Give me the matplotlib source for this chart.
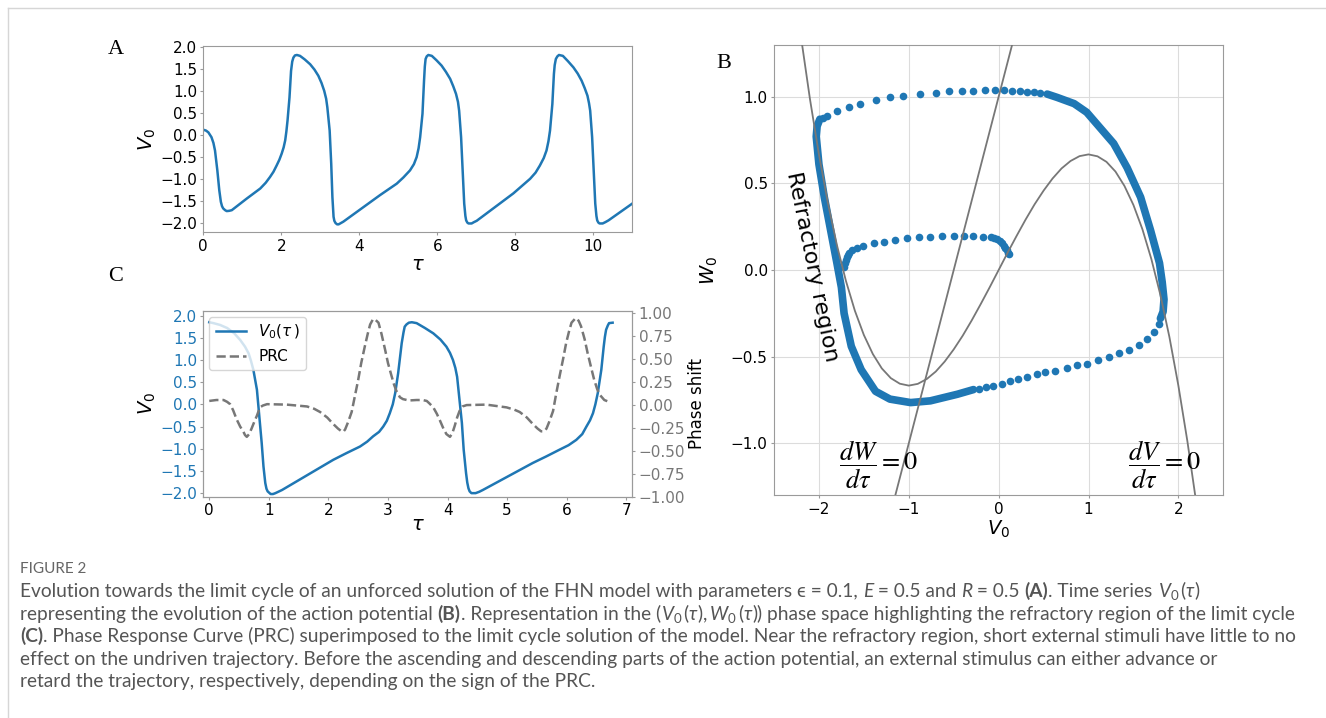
import numpy as np
import matplotlib
matplotlib.use('Agg')
import matplotlib.pyplot as plt
from matplotlib.lines import Line2D

plt.rcParams['font.family'] = ['DejaVu Sans']
plt.rcParams['mathtext.rm'] = 'Lato'
plt.rcParams['mathtext.it'] = 'Lato:italic'
plt.rcParams['mathtext.bf'] = 'Lato:bold'

# panel A: time series V0(tau)
tau_a = [0.0, 0.07, 0.13, 0.21, 0.26, 0.30, 0.36, 0.41, 0.45, 0.48, 0.51, 0.56, 0.60, 0.66, 0.73,
         1.11, 1.46, 1.60, 1.71, 1.80, 1.88, 1.95, 2.01, 2.06, 2.10, 2.13, 2.16, 2.21, 2.25, 2.28,
         2.31, 2.35, 2.40, 2.48, 2.60, 2.74, 2.85, 2.95, 3.03, 3.10, 3.15, 3.18, 3.24, 3.28, 3.31,
         3.34, 3.36, 3.39, 3.43, 3.47, 3.53, 3.59, 4.53, 4.96, 5.13, 5.30, 5.40, 5.47, 5.52, 5.56,
         5.62, 5.66, 5.68, 5.70, 5.73, 5.77, 5.86, 5.98, 6.11, 6.22, 6.33, 6.41, 6.48, 6.53, 6.56,
         6.61, 6.65, 6.69, 6.72, 6.74, 6.77, 6.80, 6.88, 6.94, 7.01, 7.95, 8.38, 8.52, 8.63, 8.73,
         8.80, 8.85, 8.89, 8.95, 8.99, 9.01, 9.04, 9.08, 9.12, 9.22, 9.35, 9.49, 9.60, 9.70, 9.78,
         9.85, 9.89, 9.92, 9.97, 10.01, 10.05, 10.08, 10.10, 10.13, 10.16, 10.24, 10.31, 10.39,
         11.0]
v_a = [0.12, 0.10, 0.06, -0.05, -0.18, -0.35, -0.80, -1.25, -1.51, -1.61, -1.66, -1.70, -1.72,
       -1.715, -1.70, -1.44, -1.21, -1.08, -0.95, -0.83, -0.69, -0.56, -0.42, -0.28, -0.12, 0.08,
       0.33, 0.85, 1.45, 1.66, 1.75, 1.80, 1.81, 1.79, 1.71, 1.60, 1.48, 1.34, 1.18, 1.00, 0.82,
       0.63, 0.10, -0.65, -1.40, -1.85, -1.94, -1.99, -2.02, -2.02, -1.99, -1.96, -1.36, -1.10,
       -0.96, -0.80, -0.66, -0.50, -0.30, -0.05, 0.48, 1.23, 1.55, 1.72, 1.78, 1.81, 1.79, 1.69,
       1.57, 1.43, 1.27, 1.10, 0.93, 0.75, 0.55, -0.05, -0.80, -1.55, -1.83, -1.93, -1.98, -2.0,
       -2.0, -1.97, -1.94, -1.32, -0.99, -0.85, -0.69, -0.52, -0.35, -0.14, 0.10, 0.70, 1.38,
       1.58, 1.72, 1.78, 1.81, 1.79, 1.67, 1.53, 1.39, 1.23, 1.06, 0.89, 0.72, 0.55, -0.05, -0.80,
       -1.55, -1.83, -1.93, -1.98, -2.0, -2.0, -1.97, -1.93, -1.55]

# panel C: limit cycle V0 and PRC
tau_c = [0.0, 0.07, 0.18, 0.30, 0.42, 0.52, 0.60, 0.66, 0.70, 0.74, 0.80, 0.84, 0.88, 0.91, 0.94,
         0.96, 0.98, 1.03, 1.07, 1.11, 1.22, 2.08, 2.30, 2.53, 2.65, 2.75, 2.85, 2.92, 2.98, 3.03,
         3.08, 3.12, 3.17, 3.23, 3.26, 3.28, 3.31, 3.35, 3.40, 3.48, 3.62, 3.76, 3.88, 3.98, 4.04,
         4.09, 4.13, 4.16, 4.20, 4.24, 4.27, 4.31, 4.33, 4.35, 4.37, 4.40, 4.47, 4.53, 4.59, 5.43,
         5.66, 5.88, 6.03, 6.16, 6.26, 6.33, 6.39, 6.44, 6.48, 6.52, 6.58, 6.62, 6.64, 6.66, 6.69,
         6.71, 6.77]
v_c = [1.85, 1.83, 1.79, 1.72, 1.60, 1.45, 1.30, 1.15, 0.98, 0.78, 0.33, -0.27, -0.87, -1.40,
       -1.77, -1.90, -1.96, -2.02, -2.02, -2.0, -1.93, -1.25, -1.10, -0.95, -0.84, -0.72, -0.62,
       -0.50, -0.37, -0.20, 0.0, 0.25, 0.70, 1.38, 1.62, 1.75, 1.80, 1.84, 1.85, 1.83, 1.72, 1.60,
       1.46, 1.30, 1.16, 1.00, 0.82, 0.62, 0.10, -0.42, -1.02, -1.55, -1.76, -1.89, -1.96, -2.0,
       -2.0, -1.97, -1.93, -1.32, -1.17, -1.02, -0.92, -0.80, -0.67, -0.50, -0.36, -0.20, 0.0,
       0.25, 0.78, 1.30, 1.52, 1.68, 1.78, 1.83, 1.84]
tau_p = [0.0, 0.12, 0.24, 0.30, 0.35, 0.40, 0.46, 0.52, 0.57, 0.60, 0.63, 0.67, 0.71, 0.76, 0.80,
         0.85, 0.90, 0.97, 1.30, 1.64, 1.76, 1.86, 1.98, 2.08, 2.16, 2.22, 2.25, 2.28, 2.33, 2.39,
         2.44, 2.50, 2.55, 2.61, 2.66, 2.70, 2.75, 2.79, 2.84, 2.89, 2.95, 3.00, 3.06, 3.10, 3.14,
         3.20, 3.25, 3.35, 3.48, 3.58, 3.65, 3.70, 3.76, 3.82, 3.87, 3.93, 3.98, 4.04, 4.08, 4.12,
         4.16, 4.20, 4.25, 4.32, 4.65, 4.99, 5.12, 5.21, 5.33, 5.43, 5.51, 5.57, 5.62, 5.66, 5.71,
         5.77, 5.82, 5.88, 5.94, 5.99, 6.04, 6.08, 6.15, 6.20, 6.24, 6.30, 6.35, 6.41, 6.46, 6.51,
         6.55, 6.63, 6.71]
prc = [0.04, 0.05, 0.05, 0.03, 0.005, -0.06, -0.16, -0.24, -0.29, -0.33, -0.35, -0.32, -0.26,
       -0.18, -0.12, -0.03, -0.01, 0.005, 0.0, -0.02, -0.045, -0.08, -0.14, -0.21, -0.26, -0.29,
       -0.295, -0.27, -0.19, -0.08, 0.08, 0.27, 0.45, 0.63, 0.77, 0.87, 0.93, 0.92, 0.89, 0.77,
       0.60, 0.45, 0.31, 0.22, 0.15, 0.08, 0.06, 0.045, 0.05, 0.05, 0.04, 0.01, -0.03, -0.10,
       -0.17, -0.26, -0.32, -0.35, -0.31, -0.23, -0.14, -0.07, -0.02, -0.005, 0.0, -0.03, -0.055,
       -0.08, -0.14, -0.21, -0.26, -0.29, -0.29, -0.26, -0.18, -0.07, 0.11, 0.31, 0.50, 0.67,
       0.80, 0.89, 0.94, 0.91, 0.85, 0.71, 0.56, 0.40, 0.27, 0.17, 0.11, 0.05, 0.03]

# panel B: phase plane
# slow parts of the orbit (dots overlap into a band)
band_left_v = [-1.99, -2.02, -2.03, -2.0, -1.94, -1.87, -1.80, -1.75, -1.72, -1.64, -1.53, -1.37,
               -1.21, -0.98, -0.76, -0.46, -0.28]
band_left_w = [0.87, 0.83, 0.77, 0.61, 0.42, 0.23, 0.04, -0.10, -0.25, -0.44, -0.575, -0.70,
               -0.745, -0.765, -0.755, -0.717, -0.69]
band_right_v = [1.80, 1.83, 1.84, 1.82, 1.79, 1.69, 1.58, 1.43, 1.28, 1.13, 0.98, 0.84, 0.65, 0.54]
band_right_w = [-0.28, -0.24, -0.17, -0.07, 0.04, 0.23, 0.42, 0.59, 0.73, 0.82, 0.91, 0.96,
                0.996, 1.015]
# fast parts, single samples
dots_bottom_v = [-0.22, -0.14, -0.06, 0.04, 0.13, 0.22, 0.32, 0.43, 0.52, 0.63, 0.76, 0.87, 0.98,
                 1.11, 1.23, 1.34, 1.45, 1.56, 1.65, 1.73, 1.78]
dots_bottom_w = [-0.685, -0.676, -0.667, -0.655, -0.64, -0.63, -0.62, -0.60, -0.59, -0.58, -0.565,
                 -0.55, -0.54, -0.52, -0.50, -0.48, -0.46, -0.43, -0.40, -0.36, -0.31]
dots_top_v = [0.46, 0.39, 0.32, 0.24, 0.15, 0.056, -0.04, -0.15, -0.28, -0.41, -0.55, -0.70,
              -0.87, -1.06, -1.21, -1.36, -1.54, -1.67, -1.80, -1.91, -1.96]
dots_top_w = [1.02, 1.025, 1.025, 1.03, 1.035, 1.04, 1.04, 1.036, 1.034, 1.033, 1.03, 1.02,
              1.015, 1.005, 1.0, 0.98, 0.96, 0.94, 0.92, 0.89, 0.875]
dots_init_v = [0.11, 0.10, 0.09, 0.075, 0.06, 0.04, 0.01, -0.02, -0.05, -0.09, -0.17, -0.28, -0.39,
               -0.50, -0.63, -0.76, -0.89, -1.02, -1.15, -1.28, -1.39, -1.51, -1.58, -1.63,
               -1.66, -1.68, -1.69, -1.70, -1.71, -1.72]
dots_init_w = [0.09, 0.10, 0.113, 0.125, 0.14, 0.153, 0.166, 0.176, 0.183, 0.188, 0.19, 0.195,
               0.197, 0.197, 0.195, 0.19, 0.188, 0.182, 0.172, 0.163, 0.153, 0.14, 0.125, 0.113,
               0.10, 0.088, 0.077, 0.06, 0.04, 0.02]
# nullclines dV/dtau = 0 (cubic) and dW/dtau = 0 (straight line)
cubic_v = [-2.19, -2.1, -2.0, -1.9, -1.8, -1.7, -1.6, -1.5, -1.4, -1.3, -1.2, -1.1, -1.0, -0.9,
           -0.8, -0.7, -0.6, -0.5, -0.4, -0.3, -0.2, -0.1, 0.0, 0.1, 0.2, 0.3, 0.4, 0.5, 0.6, 0.7,
           0.8, 0.9, 1.0, 1.1, 1.2, 1.3, 1.4, 1.5, 1.6, 1.7, 1.8, 1.9, 2.0, 2.1, 2.19]
cubic_w = [1.31, 0.987, 0.667, 0.386, 0.144, -0.062, -0.235, -0.375, -0.485, -0.568, -0.624,
           -0.656, -0.667, -0.657, -0.629, -0.586, -0.528, -0.458, -0.379, -0.291, -0.197,
           -0.100, 0.0, 0.100, 0.197, 0.291, 0.379, 0.458, 0.528, 0.586, 0.629, 0.657, 0.667,
           0.656, 0.624, 0.568, 0.485, 0.375, 0.235, 0.062, -0.144, -0.386, -0.667, -0.987, -1.31]
line_v = [-1.15, 0.15]
line_w = [-1.3, 1.3]

W, H = 1326, 718
BLUE = '#1f77b4'
GRAY = '#777777'
SPINE = '#9a9a9a'

fig = plt.figure(figsize=(W / 100, H / 100), dpi=100)


def box(l, r, t, b):
    return [l / W, 1 - b / H, (r - l) / W, (b - t) / H]


def style(ax):
    for s in ax.spines.values():
        s.set_color(SPINE)
    ax.tick_params(length=2.5, width=0.8, color=SPINE, labelsize=11, pad=2)


# ---- A
axA = fig.add_axes(box(203.3, 632.3, 45.7, 232.3))
axA.plot(tau_a, v_a, color=BLUE, lw=1.8)
axA.set_xlim(0, 11)
axA.set_ylim(-2.2, 2.02)
axA.set_xticks([0, 2, 4, 6, 8, 10])
axA.set_yticks([-2.0, -1.5, -1.0, -0.5, 0.0, 0.5, 1.0, 1.5, 2.0])
style(axA)
axA.set_xlabel(r'$\tau$', fontsize=14)
axA.set_ylabel(r'$V_0$', fontsize=14)
axA.xaxis.set_label_coords(0.5, -0.12)
axA.yaxis.set_label_coords(-0.105, 0.5)

# ---- C
axC = fig.add_axes(box(203.3, 632.3, 310.7, 496.7))
l1, = axC.plot(tau_c, v_c, color=BLUE, lw=1.8, label=r'$V_0(\tau\,)$')
axC.set_xlim(-0.1, 7.1)
axC.set_ylim(-2.08, 2.11)
axC.set_xticks([0, 1, 2, 3, 4, 5, 6, 7])
axC.set_yticks([-2.0, -1.5, -1.0, -0.5, 0.0, 0.5, 1.0, 1.5, 2.0])
style(axC)
axC.tick_params(axis='y', labelcolor=BLUE)
axC.set_xlabel(r'$\tau$', fontsize=14)
axC.set_ylabel(r'$V_0$', fontsize=14)
axC.xaxis.set_label_coords(0.5, -0.1)
axC.yaxis.set_label_coords(-0.105, 0.5)
axC2 = axC.twinx()
l2, = axC2.plot(tau_p, prc, color=GRAY, lw=1.8, ls='--', label='PRC')
axC2.set_ylim(-1.0, 1.02)
axC2.set_yticks([-1.0, -0.75, -0.5, -0.25, 0.0, 0.25, 0.5, 0.75, 1.0])
style(axC2)
axC2.tick_params(axis='y', labelcolor=GRAY)
axC2.set_ylabel('Phase shift', fontsize=12)
axC2.yaxis.set_label_coords(1.13, 0.5)
axC2.legend([l1, l2], [l1.get_label(), l2.get_label()], loc='upper left', fontsize=11,
            framealpha=0.8, borderaxespad=0.4)

# ---- B
axB = fig.add_axes(box(774, 1223.3, 44.7, 495.3))
axB.grid(True, color='#dcdcdc', lw=0.8)
axB.set_axisbelow(True)
axB.plot(band_left_v, band_left_w, color=BLUE, lw=5.5, solid_capstyle='round',
         solid_joinstyle='round')
axB.plot(band_right_v, band_right_w, color=BLUE, lw=5.5, solid_capstyle='round',
         solid_joinstyle='round')
for dv, dw in [(dots_bottom_v, dots_bottom_w), (dots_top_v, dots_top_w),
               (dots_init_v, dots_init_w)]:
    axB.plot(dv, dw, 'o', color=BLUE, ms=5.5, mew=0)
axB.plot(cubic_v, cubic_w, color=GRAY, lw=1.3, zorder=3)
axB.plot(line_v, line_w, color=GRAY, lw=1.3, zorder=3)
axB.set_xlim(-2.5, 2.5)
axB.set_ylim(-1.3, 1.3)
axB.set_xticks([-2, -1, 0, 1, 2])
axB.set_yticks([-1.0, -0.5, 0.0, 0.5, 1.0])
style(axB)
axB.set_xlabel(r'$V_0$', fontsize=14)
axB.set_ylabel(r'$W_0$', fontsize=14)
axB.xaxis.set_label_coords(0.5, -0.052)
axB.yaxis.set_label_coords(-0.12, 0.5)
axB.text(-2.08, 0.02, 'Refractory region', rotation=-78.4, fontsize=16, ha='center',
         va='center', rotation_mode='anchor')
axB.text(-1.34, -1.127, r'$\dfrac{dW}{d\tau}=0$', fontsize=19, math_fontfamily='stix',
         ha='center', va='center')
axB.text(1.85, -1.127, r'$\dfrac{dV}{d\tau}=0$', fontsize=19, math_fontfamily='stix',
         ha='center', va='center')

# panel letters
for lab, x, y in [('A', 116, 50), ('B', 724, 64), ('C', 116, 277)]:
    fig.text(x / W, 1 - y / H, lab, family='Liberation Serif', fontsize=16, ha='center',
             va='center')

# page frame
fig.add_artist(Line2D([8 / W, 1], [1 - 8 / H, 1 - 8 / H], color='#d6d6d6', lw=1,
                      transform=fig.transFigure))
fig.add_artist(Line2D([8 / W, 8 / W], [0, 1 - 8 / H], color='#d6d6d6', lw=1,
                      transform=fig.transFigure))

# ---- caption
CAP = '#555555'
rend = fig.canvas.get_renderer()


def seg_width(s, size, kw):
    a = fig.text(0, 0, '|' + s + '|', fontsize=size, family='Lato', **kw)
    b = fig.text(0, 0, '||', fontsize=size, family='Lato', **kw)
    w = a.get_window_extent(rend).width - b.get_window_extent(rend).width
    a.remove()
    b.remove()
    return w


MF = {'math_fontfamily': 'custom'}
BF = {'weight': 'bold'}
IT = {'style': 'italic'}
caption = [
    [("Evolution towards the limit cycle of an unforced solution of the FHN model with "
      "parameters \u03f5 = 0.1, ", {}), ("E", IT), (" = 0.5 and ", {}), ("R", IT),
     (" = 0.5 ", {}), ("(A)", BF), (". Time series ", {}), (r"$V_0\,(\tau)$", MF)],
    [("representing the evolution of the action potential ", {}), ("(B)", BF),
     (". Representation in the (", {}), (r"$V_0\,(\tau), W_0\,(\tau)$", MF),
     (") phase space highlighting the refractory region of the limit cycle", {})],
    [("(C)", BF), (". Phase Response Curve (PRC) superimposed to the limit cycle solution of "
                   "the model. Near the refractory region, short external stimuli have little "
                   "to no", {})],
    [("effect on the undriven trajectory. Before the ascending and descending parts of the "
      "action potential, an external stimulus can either advance or", {})],
    [("retard the trajectory, respectively, depending on the sign of the PRC.", {})],
]
# font size chosen so that the lines span about their width in the picture
size = 10 * 1205 / seg_width(caption[3][0][0], 10, {})

fig.text(20 / W, 1 - 573 / H, 'FIGURE 2', family='Lato', fontsize=11, color='#666666',
         va='baseline')
for i, segs in enumerate(caption):
    x = 20
    y = 597 + i * 22.6
    for s, kw in segs:
        fig.text(x / W, 1 - y / H, s, fontsize=size, family='Lato', color=CAP,
                 va='baseline', ha='left', **kw)
        x += seg_width(s, size, kw)

fig.savefig('out.png', dpi=100)
